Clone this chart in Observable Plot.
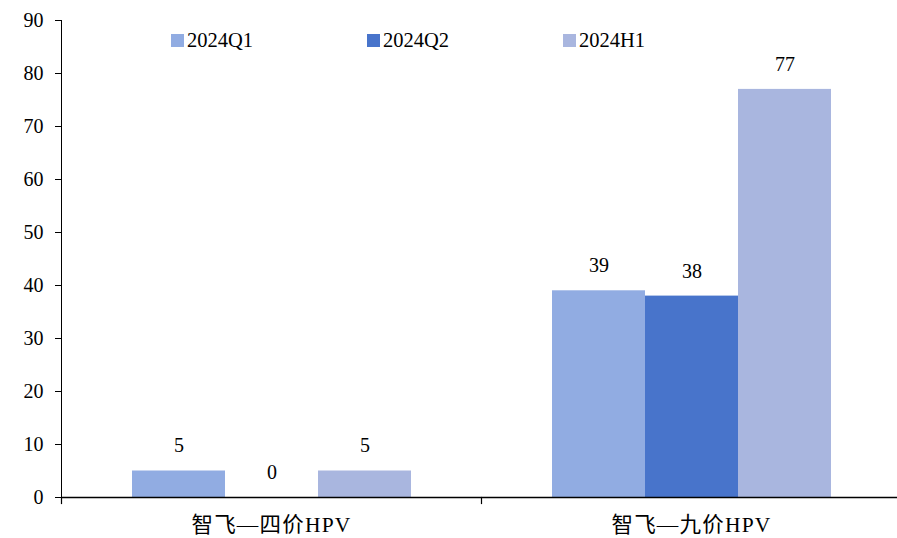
<!DOCTYPE html>
<html>
<head>
<meta charset="utf-8">
<script src="https://cdn.jsdelivr.net/npm/d3@7"></script>
<script src="https://cdn.jsdelivr.net/npm/@observablehq/plot@0.6"></script>
<style>
  html, body { margin: 0; padding: 0; background: #fff; overflow: hidden; }
  #wrap { position: relative; width: 897px; height: 538px; overflow: hidden; font-family: "Liberation Serif", "Noto Sans CJK SC", serif; }
  #wrap svg, #wrap svg text { font-family: "Liberation Serif", "Noto Sans CJK SC", serif !important; }
  #wrap g[aria-label="fx-axis tick label"] text { letter-spacing: 1.2px; }
  #legend { position: absolute; left: 171px; top: 31px; display: flex; font-family: "Liberation Serif", serif; font-size: 20.5px; color: #000; }
  .item { width: 196px; display: flex; align-items: center; height: 18px; }
  .sw { width: 13px; height: 13px; margin-right: 3px; flex: none; }
</style>
</head>
<body>
<div id="wrap"><div id="legend"></div></div>
<script>
const categories = ["智飞—四价HPV", "智飞—九价HPV"];
const series = ["2024Q1", "2024Q2", "2024H1"];
const valuesQ1 = [5, 39];
const valuesQ2 = [0, 38];
const valuesH1 = [5, 77];
const colors = ["#91ACE2", "#4874CB", "#A9B6DF"];
const yTicks = [0, 10, 20, 30, 40, 50, 60, 70, 80, 90];

const seriesValues = [valuesQ1, valuesQ2, valuesH1];
const table = [];
categories.forEach((c, i) => {
  series.forEach((s, j) => {
    table.push({category: c, series: s, value: seriesValues[j][i]});
  });
});

const chart = Plot.plot({
  width: 897,
  height: 538,
  marginTop: 20,
  marginBottom: 41,
  marginLeft: 60,
  marginRight: -4,
  style: {fontFamily: "\"Liberation Serif\", \"Noto Sans CJK SC\", serif", fontSize: "20px", color: "#000", background: "#fff", overflow: "hidden"},
  fx: {domain: categories, paddingInner: 0, paddingOuter: 0},
  x: {domain: series, paddingInner: 0, paddingOuter: 0.74, axis: null},
  y: {domain: [0, 90], ticks: yTicks, tickSize: 6, tickPadding: 12, line: true, label: null},
  color: {domain: series, range: colors},
  marks: [
    Plot.axisFx({anchor: "bottom", tickSize: 0, tickPadding: 19, fontSize: 21.5, label: null}),
    Plot.barY(table, {fx: "category", x: "series", y: "value", fill: "series"}),
    Plot.text(table, {fx: "category", x: "series", y: "value", text: d => String(d.value), dy: -25, lineAnchor: "middle", fill: "#000"}),
    Plot.ruleY([0], {stroke: "#000", strokeWidth: 1.5}),
    Plot.frame({anchor: "left", insetTop: 477, insetBottom: -6, stroke: "#000", strokeWidth: 1.2})
  ]
});
document.getElementById("wrap").prepend(chart);

const legend = document.getElementById("legend");
series.forEach((s, j) => {
  const it = document.createElement("div");
  it.className = "item";
  const sw = document.createElement("span");
  sw.className = "sw";
  sw.style.background = colors[j];
  const tx = document.createElement("span");
  tx.textContent = s;
  it.appendChild(sw);
  it.appendChild(tx);
  legend.appendChild(it);
});
</script>
</body>
</html>
